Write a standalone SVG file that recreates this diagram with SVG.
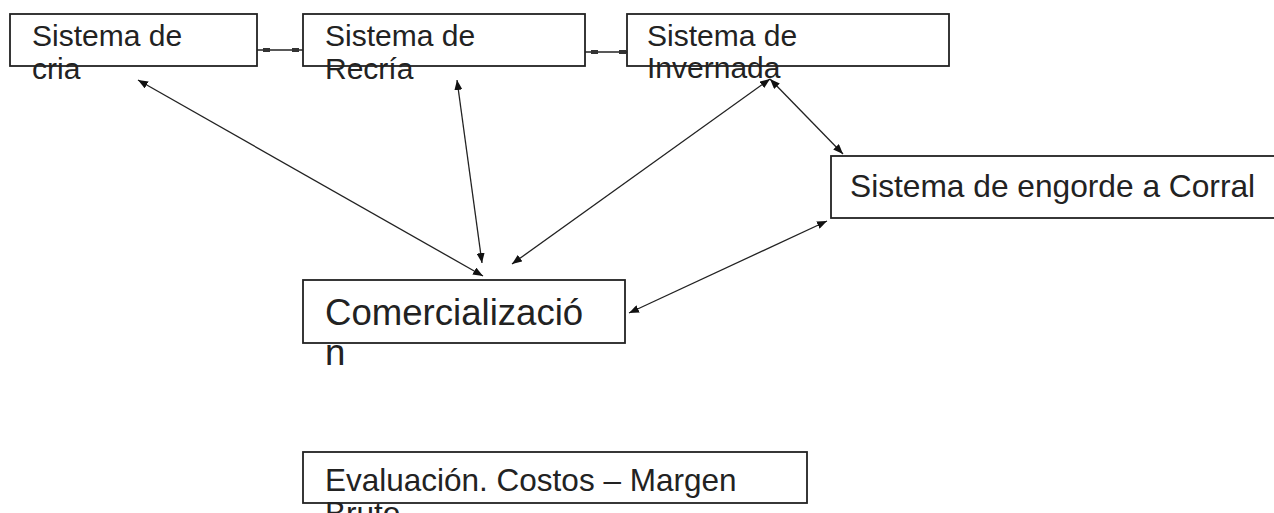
<svg xmlns="http://www.w3.org/2000/svg" width="1274" height="513" viewBox="0 0 1274 513">
<style>
.box{fill:#fff;stroke:#222;stroke-width:1.8}
.t{font-family:"Liberation Sans",Arial,sans-serif;fill:#222}
.c{stroke:#222;stroke-width:1.3;fill:none}
.sq{fill:#333}
</style>
<defs>
<marker id="ah" viewBox="0 0 10 8" refX="10" refY="4" markerWidth="10" markerHeight="8" markerUnits="userSpaceOnUse" orient="auto-start-reverse">
<path d="M0,0 L10,4 L0,8 Z" fill="#111"/>
</marker>
</defs>
<rect width="1274" height="513" fill="#fff"/>
<g id="n-cria">
<rect class="box" x="10" y="14" width="247" height="52"/>
<text class="t" font-size="30" x="32" y="46">Sistema de</text>
<text class="t" font-size="30" x="32" y="79">cria</text>
</g>
<g id="n-recria">
<rect class="box" x="303" y="14" width="282" height="52"/>
<text class="t" font-size="30" x="325" y="46">Sistema de</text>
<text class="t" font-size="30" x="325" y="79">Recría</text>
</g>
<g id="n-invernada">
<rect class="box" x="627" y="14" width="322" height="52"/>
<text class="t" font-size="30" x="647" y="46">Sistema de</text>
<text class="t" font-size="30" x="647" y="78">Invernada</text>
</g>
<g id="n-engorde">
<rect class="box" x="831" y="156" width="460" height="62"/>
<text class="t" font-size="31.7" x="850" y="197">Sistema de engorde a Corral</text>
</g>
<g id="n-comercializacion">
<rect class="box" x="303" y="280" width="322" height="63"/>
<text class="t" font-size="36.6" x="325" y="325">Comercializació</text>
<text class="t" font-size="36.6" x="325" y="365">n</text>
</g>
<g id="n-evaluacion">
<rect class="box" x="303" y="452" width="504" height="51"/>
<text class="t" font-size="31.5" x="325" y="491">Evaluación. Costos – Margen</text>
<text class="t" font-size="31.5" x="325" y="524">Bruto</text>
</g>
<g id="connectors">
<line class="c" x1="257" y1="50" x2="303" y2="50"/>
<rect class="sq" x="263" y="48" width="7" height="4"/>
<rect class="sq" x="292" y="48" width="7" height="4"/>
<line class="c" x1="585" y1="52" x2="627" y2="52"/>
<rect class="sq" x="591" y="50" width="7" height="4"/>
<rect class="sq" x="619" y="50" width="7" height="4"/>
<line class="c" x1="138" y1="80" x2="483" y2="276" marker-start="url(#ah)" marker-end="url(#ah)"/>
<line class="c" x1="457" y1="80" x2="482" y2="263" marker-start="url(#ah)" marker-end="url(#ah)"/>
<line class="c" x1="770" y1="79" x2="512" y2="264" marker-start="url(#ah)" marker-end="url(#ah)"/>
<line class="c" x1="770" y1="79" x2="843" y2="154" marker-start="url(#ah)" marker-end="url(#ah)"/>
<line class="c" x1="827" y1="221" x2="629" y2="313" marker-start="url(#ah)" marker-end="url(#ah)"/>
</g>
</svg>
